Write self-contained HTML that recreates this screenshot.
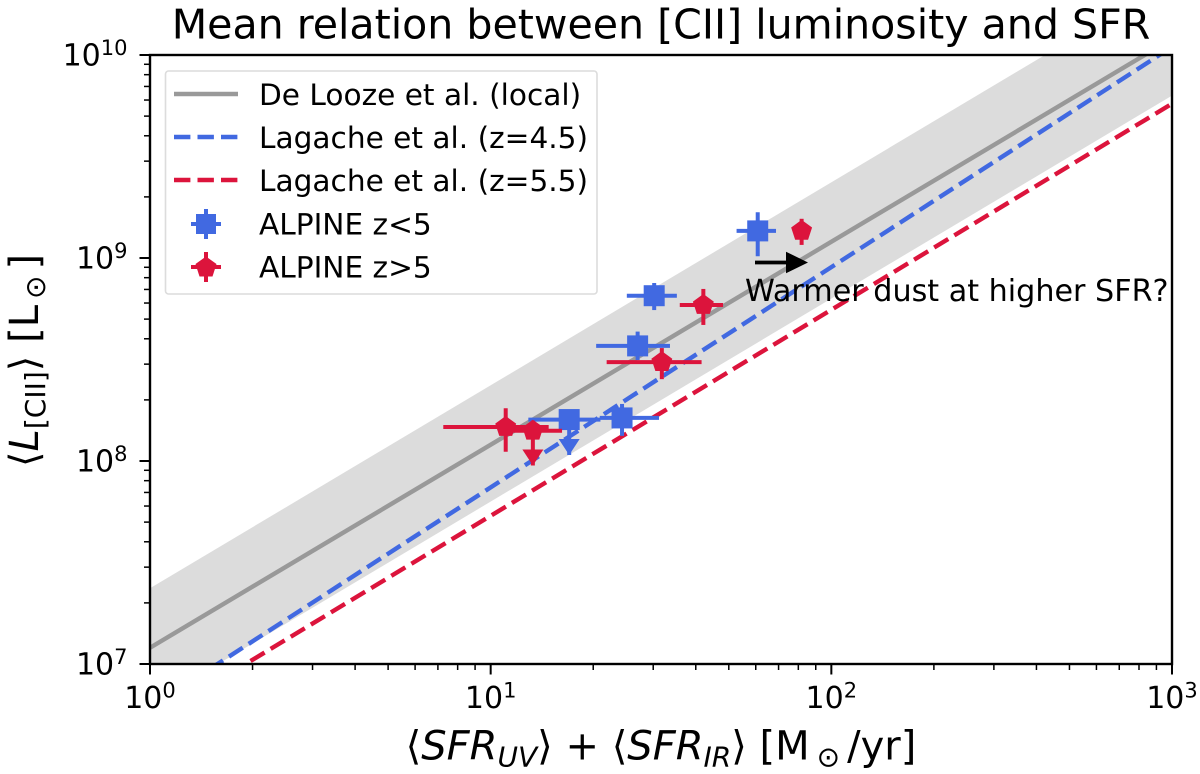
<!DOCTYPE html>
<html>
<head>
<meta charset="utf-8">
<title>Mean relation between [CII] luminosity and SFR</title>
<style>
html,body{margin:0;padding:0;background:#fff;}
svg{display:block;font-family:"DejaVu Sans","Liberation Sans",sans-serif;fill:#000;}
</style>
</head>
<body>
<svg id="chart" xmlns="http://www.w3.org/2000/svg" width="1200" height="774" viewBox="0 0 1200 774">
  <defs><clipPath id="plot-clip"><rect x="150" y="55.5" width="1022" height="608.5"/></clipPath></defs>
  <text x="661" y="38.5" text-anchor="middle" font-size="41.1">Mean relation between [CII] luminosity and SFR</text>
  <g id="plot" clip-path="url(#plot-clip)"></g>
  <g id="points"></g>
  <g id="axes"></g>
  <g>
    <line x1="755" y1="262.5" x2="788" y2="262.5" stroke="#000" stroke-width="3.8"/>
    <polygon points="786,251.7 808,262.5 786,273.3" fill="#000"/>
    <text x="745" y="301" font-size="30.2">Warmer dust at higher SFR?</text>
  </g>
  <text x="661" y="759.5" text-anchor="middle" font-size="40">⟨<tspan font-style="italic">SFR</tspan><tspan font-style="italic" font-size="28" dy="7">UV</tspan><tspan dy="-7">⟩ + ⟨</tspan><tspan font-style="italic">SFR</tspan><tspan font-style="italic" font-size="28" dy="7">IR</tspan><tspan dy="-7">⟩ [M</tspan><tspan font-size="28" dx="7" dy="7">⊙</tspan><tspan dx="7" dy="-7">/yr]</tspan></text>
  <text transform="translate(38,360.5) rotate(-90)" text-anchor="middle" font-size="40">⟨<tspan font-style="italic">L</tspan><tspan font-size="28" dy="7">[CII]</tspan><tspan dy="-7">⟩ [L</tspan><tspan font-size="28" dx="6" dy="7">⊙</tspan><tspan dx="6" dy="-7">]</tspan></text>
  <g>
    <rect x="165.5" y="71" width="431.5" height="223" rx="3" fill="#fff" fill-opacity="0.9" stroke="#dcdcdc" stroke-width="1.6"/>
    <line x1="174" y1="94" x2="238" y2="94" stroke="#999" stroke-width="4.4"/>
    <text x="259" y="105" font-size="29.6">De Looze et al. (local)</text>
    <line x1="174" y1="137" x2="238" y2="137" stroke="#4169e1" stroke-width="4.4" stroke-dasharray="16.4 7.1"/>
    <text x="259" y="148" font-size="29.6">Lagache et al. (z=4.5)</text>
    <line x1="174" y1="180" x2="238" y2="180" stroke="#dc143c" stroke-width="4.4" stroke-dasharray="16.4 7.1"/>
    <text x="259" y="191" font-size="29.6">Lagache et al. (z=5.5)</text>
    <g stroke="#4169e1" stroke-width="4">
      <line x1="191" y1="224" x2="221" y2="224"/><line x1="206" y1="209" x2="206" y2="239"/>
      <rect x="196" y="214" width="20" height="20" fill="#4169e1" stroke="none"/>
    </g>
    <text x="259" y="234.5" font-size="29.6">ALPINE z&lt;5</text>
    <g stroke="#dc143c" stroke-width="4">
      <line x1="191" y1="267" x2="221" y2="267"/><line x1="206" y1="252" x2="206" y2="282"/>
      <polygon points="206,256.5 216.5,264 212.5,276.5 199.5,276.5 195.5,264" fill="#dc143c" stroke="none"/>
    </g>
    <text x="259" y="277.5" font-size="29.6">ALPINE z&gt;5</text>
  </g>
<script>
// Log-decade tick labels
var xTickExponents = [0, 1, 2, 3];
var yTickExponents = [7, 8, 9, 10];
var minorMultiples = [2, 3, 4, 5, 6, 7, 8, 9];

// Relations: log L = slope * log SFR + intercept
var relationSlopes = { deLooze: 1.0, bandLow: 1.0, bandHigh: 1.0, lagache45: 1.085, lagache55: 1.015 };
var relationIntercepts = { deLooze: 7.08, bandLow: 6.8, bandHigh: 7.373, lagache45: 6.785, lagache55: 6.715 };
var relationSfrRange = [1, 1000];

// ALPINE z<5 stacks
var lowZSfr    = [60.8, 30.2, 27.0, 17.0, 24.3];
var lowZSfrLo  = [52.7, 25.1, 20.4, 12.9, 20.9];
var lowZSfrHi  = [68.8, 35.2, 33.6, 21.0, 31.2];
var lowZLum    = [1.36e9, 6.52e8, 3.69e8, 1.60e8, 1.63e8];
var lowZLumLo  = [1.02e9, 5.54e8, 3.14e8, 1.07e8, 1.33e8];
var lowZLumHi  = [1.68e9, 7.53e8, 4.34e8, 1.78e8, 1.91e8];
var lowZUpperLimit = [false, false, false, true, false];

// ALPINE z>5 stacks
var highZSfr   = [81.8, 42.1, 31.8, 11.07, 13.3];
var highZSfrLo = [81.8, 35.9, 21.9, 7.26, 11.4];
var highZSfrHi = [81.8, 48.1, 41.6, 14.8, 16.2];
var highZLum   = [1.36e9, 5.87e8, 3.07e8, 1.47e8, 1.41e8];
var highZLumLo = [1.16e9, 4.68e8, 2.53e8, 1.11e8, 0.95e8];
var highZLumHi = [1.56e9, 7.04e8, 3.60e8, 1.82e8, 1.58e8];
var highZUpperLimit = [false, false, false, false, true];

var NS = 'http://www.w3.org/2000/svg';
var X0 = 150, XDEC = 340.67, Y0 = 664, YDEC = 203;
function sx(v) { return X0 + (Math.log10(v)) * XDEC; }
function sy(v) { return Y0 - (Math.log10(v) - 7) * YDEC; }
function mk(tag, parent, attrs) {
  var el = document.createElementNS(NS, tag);
  for (var k in attrs) { el.setAttribute(k, attrs[k]); }
  parent.appendChild(el);
  return el;
}
function relY(key, sfr) { return sy(Math.pow(10, relationSlopes[key] * Math.log10(sfr) + relationIntercepts[key])); }

var plot = document.getElementById('plot');
var points = document.getElementById('points');
var axes = document.getElementById('axes');
var sA = relationSfrRange[0], sB = relationSfrRange[1];

var band = mk('polygon', plot, {
  points: [[sx(sA), relY('bandHigh', sA)], [sx(sB), relY('bandHigh', sB)], [sx(sB), relY('bandLow', sB)], [sx(sA), relY('bandLow', sA)]].map(function (p) { return p.join(','); }).join(' '),
  fill: '#dcdcdc'
});



var lineDL = mk('line', plot, { x1: sx(sA), y1: relY('deLooze', sA), x2: sx(sB), y2: relY('deLooze', sB), stroke: '#999', 'stroke-width': 4.4 });



var line45 = mk('line', plot, { x1: sx(sA), y1: relY('lagache45', sA), x2: sx(sB), y2: relY('lagache45', sB), stroke: '#4169e1', 'stroke-width': 4.4, 'stroke-dasharray': '16.4 7.1' });



var line55 = mk('line', plot, { x1: sx(sA), y1: relY('lagache55', sA), x2: sx(sB), y2: relY('lagache55', sB), stroke: '#dc143c', 'stroke-width': 4.4, 'stroke-dasharray': '16.4 7.1' });



function drawSeries(prefix, color, shape, sfr, lo, hi, lum, lumLo, lumHi, limit) {
  for (var i = 0; i < sfr.length; i++) {
    var cx = sx(sfr[i]), cy = sy(lum[i]);
    var g = mk('g', points, {});
    
    
    mk('line', g, { x1: sx(lo[i]), y1: cy, x2: sx(hi[i]), y2: cy, stroke: color, 'stroke-width': 4 });
    mk('line', g, { x1: cx, y1: sy(lumLo[i]), x2: cx, y2: sy(lumHi[i]), stroke: color, 'stroke-width': 4 });
    if (limit[i]) {
      var ty = sy(lumLo[i]);
      mk('polygon', g, { points: (cx - 10.5) + ',' + (ty - 16) + ' ' + (cx + 10.5) + ',' + (ty - 16) + ' ' + cx + ',' + ty, fill: color });
    }
    if (shape === 'square') {
      mk('rect', g, { x: cx - 10.5, y: cy - 10.5, width: 21, height: 21, fill: color });
    } else {
      var pts = [];
      for (var k = 0; k < 5; k++) {
        var a = -Math.PI / 2 + k * 2 * Math.PI / 5;
        pts.push((cx + 11 * Math.cos(a)) + ',' + (cy + 11 * Math.sin(a)));
      }
      mk('polygon', g, { points: pts.join(' '), fill: color });
    }
  }
}
drawSeries('alpine-low-z', '#4169e1', 'square', lowZSfr, lowZSfrLo, lowZSfrHi, lowZLum, lowZLumLo, lowZLumHi, lowZUpperLimit);
drawSeries('alpine-high-z', '#dc143c', 'pentagon', highZSfr, highZSfrLo, highZSfrHi, highZLum, highZLumLo, highZLumHi, highZUpperLimit);

// Frame
var frame = mk('rect', axes, { x: X0, y: sy(1e10), width: XDEC * 3, height: YDEC * 3, fill: 'none', stroke: '#000', 'stroke-width': 2.4 });



// X ticks
xTickExponents.forEach(function (e) {
  var v = Math.pow(10, e), px = sx(v);
  var t = mk('line', axes, { x1: px, y1: Y0, x2: px, y2: Y0 + 10.5, stroke: '#000', 'stroke-width': 2 });
  
  
  var lab = mk('text', axes, { x: px, y: Y0 + 44, 'text-anchor': 'middle', 'font-size': 30 });
  
  
  lab.appendChild(document.createTextNode('10'));
  var sup = mk('tspan', lab, { dy: -10.5, 'font-size': 21 });
  sup.textContent = String(e);
  if (e < 3) {
    minorMultiples.forEach(function (m) {
      var mx = sx(v * m);
      var mt = mk('line', axes, { x1: mx, y1: Y0, x2: mx, y2: Y0 + 6, stroke: '#000', 'stroke-width': 1.5 });
      
      
    });
  }
});

// Y ticks
yTickExponents.forEach(function (e) {
  var v = Math.pow(10, e), py = sy(v);
  var t = mk('line', axes, { x1: X0, y1: py, x2: X0 - 10.5, y2: py, stroke: '#000', 'stroke-width': 2 });
  
  
  var lab = mk('text', axes, { x: 127.5, y: py + 10.5, 'text-anchor': 'end', 'font-size': 30 });
  
  
  lab.appendChild(document.createTextNode('10'));
  var sup = mk('tspan', lab, { dy: -10.5, 'font-size': 21 });
  sup.textContent = String(e);
  if (e < 10) {
    minorMultiples.forEach(function (m) {
      var my = sy(v * m);
      var mt = mk('line', axes, { x1: X0, y1: my, x2: X0 - 6, y2: my, stroke: '#000', 'stroke-width': 1.5 });
      
      
    });
  }
});
</script>
</svg>
</body>
</html>
